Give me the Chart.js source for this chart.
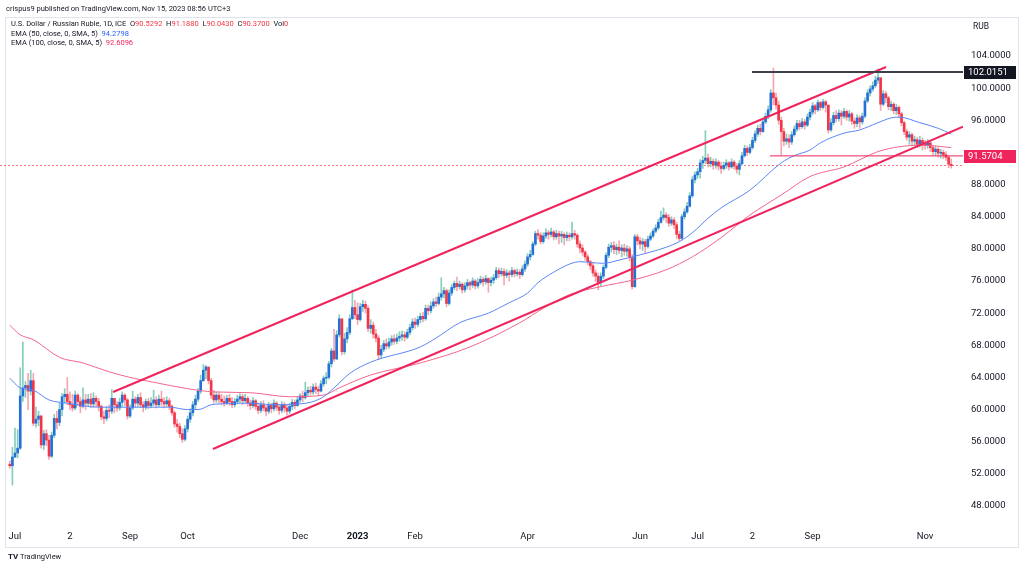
<!DOCTYPE html>
<html lang="en">
<head>
<meta charset="UTF-8">
<title>U.S. Dollar / Russian Ruble, 1D</title>
<script src="https://cdn.jsdelivr.net/npm/chart.js"></script>
<style>
  body { margin: 0; background: #fff; font-family: Roboto, "Liberation Sans", sans-serif; color: #131722; }
  #wrap { position: relative; width: 1024px; height: 568px; overflow: hidden; }
  #pane { position: absolute; left: 5px; top: 17px; width: 1012px; height: 529px; border: 1px solid #e0e3eb; }
  canvas { position: absolute; left: 0; top: 0; }
  .t { position: absolute; white-space: nowrap; font-size: 7.5px; line-height: 10px; }
  .red { color: #f23645; }
  .blue { color: #2962ff; }
  .pink { color: #f0245c; }
</style>
</head>
<body>
<div id="wrap">
  <div id="pane"></div>
  <canvas id="chart" width="1024" height="568"></canvas>
  <div class="t" style="left:6px;top:4px;">crispus9 published on TradingView.com, Nov 15, 2023 08:56 UTC+3</div>
  <div class="t" style="left:11px;top:19px;">U.S. Dollar / Russian Ruble, 1D, ICE&nbsp; O<span class="red">90.5292</span>&nbsp; H<span class="red">91.1880</span>&nbsp; L<span class="red">90.0430</span>&nbsp; C<span class="red">90.3700</span>&nbsp; Vol<span class="red">0</span></div>
  <div class="t" style="left:11px;top:29px;">EMA (50, close, 0, SMA, 5)&nbsp; <span class="blue">94.2798</span></div>
  <div class="t" style="left:11px;top:38px;">EMA (100, close, 0, SMA, 5)&nbsp; <span class="pink">92.6096</span></div>
  <div class="t" style="left:973px;top:21px;font-size:8.5px;">RUB</div>
  <div class="t" style="left:8px;top:552px;"><b style="font-size:8px;">TV</b> TradingView</div>
</div>
<script>
// daily candles, index 0 = 29 Jun 2022 ... 360 = 15 Nov 2023 (weekdays)
// open of each candle = previous close; first open given
const firstOpen = 53.2;
const closes = [
  53.0, 54.1, 54.6, 55.2, 61.7, 62.7, 63.0, 62.3, 63.6, 58.3,
  58.8, 59.2, 55.6, 57.0, 56.2, 54.2, 56.8, 58.9, 58.4, 60.0,
  61.6, 61.9, 61.0, 60.6, 60.2, 61.8, 61.0, 60.4, 61.2, 60.8,
  61.3, 60.7, 61.4, 61.0, 60.4, 59.1, 58.9, 59.9, 59.8, 61.4,
  60.6, 60.2, 60.9, 61.8, 61.2, 59.2, 60.2, 61.3, 60.8, 61.5,
  60.6, 60.3, 61.0, 60.5, 60.8, 61.2, 60.6, 61.3, 61.0, 60.7,
  61.1, 60.4, 59.6, 58.2, 57.9, 57.0, 56.3, 57.6, 58.8, 59.6,
  60.6, 61.3, 62.3, 63.6, 64.9, 65.3, 63.6, 61.8, 61.2, 61.8,
  61.3, 61.0, 60.8, 61.4, 61.0, 60.6, 61.0, 61.3, 61.6, 61.1,
  61.4, 60.8, 60.5, 61.1, 60.4, 59.9, 60.6, 60.2, 59.8, 60.5,
  60.1, 60.8, 60.3, 59.9, 60.6, 60.2, 59.8, 60.4, 60.9, 60.5,
  61.2, 61.7, 61.5, 62.1, 62.4, 62.2, 62.8, 62.5, 62.3, 63.2,
  63.9, 64.0, 65.7, 67.3, 66.3, 69.3, 71.3, 67.2, 68.8, 69.6,
  71.3, 72.7, 71.8, 71.2, 72.8, 73.1, 72.6, 70.1, 70.5, 69.4,
  68.9, 66.8, 67.5, 68.2, 67.9, 68.4, 68.8, 68.5, 68.9, 69.1,
  69.3, 69.0, 69.6, 70.2, 70.9, 70.6, 71.2, 71.6, 71.3, 72.6,
  72.3, 72.9, 73.4, 73.2, 74.0, 74.4, 74.8, 73.2, 74.5, 75.2,
  75.7, 75.3, 75.6, 74.9, 75.4, 75.8, 75.5, 76.0, 75.4, 75.8,
  76.2, 75.9, 76.3, 75.8, 76.1, 76.4, 77.3, 76.9, 77.2, 76.7,
  77.0, 76.8, 77.3, 76.9, 77.1, 76.8, 77.5, 78.1, 79.0, 79.3,
  80.6, 81.9, 81.7, 80.9, 81.6, 82.0, 81.8, 82.1, 81.5, 81.9,
  81.6, 81.8, 81.4, 81.7, 81.5, 81.9, 81.7, 80.6, 80.1, 79.6,
  79.0, 78.4, 77.9, 77.0, 76.6, 75.8, 76.6, 77.7, 79.2, 80.2,
  80.4, 79.9, 80.2, 79.8, 80.1, 79.7, 80.0, 78.9, 75.3, 81.5,
  81.0, 80.6, 80.9, 80.3, 81.2, 81.6, 82.2, 82.6, 83.3, 83.9,
  84.2, 83.9, 83.2, 83.6, 83.0, 81.8, 81.3, 84.0, 84.6, 85.3,
  86.6, 88.6, 89.2, 89.6, 90.7, 91.0, 91.3, 90.6, 90.9, 90.4,
  90.8, 90.3, 90.0, 90.4, 90.7, 90.2, 90.8, 90.3, 89.9, 90.6,
  91.6, 92.5, 92.0, 92.6, 93.5, 94.3, 95.0, 94.6, 95.8, 96.5,
  97.3, 99.4, 98.8, 97.9, 96.0, 94.6, 93.4, 93.7, 93.3, 94.2,
  94.9, 95.6, 95.2, 95.8, 95.4, 96.4, 97.0, 97.8, 97.3, 98.2,
  97.6, 98.3, 97.9, 94.8, 95.7, 96.6, 96.2, 96.9, 96.5, 97.1,
  96.4, 96.8, 95.9, 95.6, 96.3, 95.8, 96.5, 98.4, 99.4, 99.9,
  100.3, 101.0, 101.3, 98.0, 99.3, 98.8, 97.7, 98.0, 97.2, 97.6,
  96.8, 95.7, 94.6, 93.9, 94.2, 93.4, 93.6, 93.0, 93.5, 93.1,
  92.9, 93.2, 92.6, 92.1, 92.4, 91.9, 92.0, 91.7, 91.4, 90.53, 90.37
];
const highs = [
  53.6, 55.3, 57.7, 57.5, 65.2, 68.4, 63.5, 64.5, 64.9, 64.5,
  60.3, 59.8, 59.3, 57.4, 57.5, 56.8, 57.2, 59.4, 59.8, 60.8,
  62.0, 62.6, 64.0, 62.2, 61.9, 62.3, 62.0, 61.5, 62.7, 61.9,
  61.9, 62.0, 62.1, 61.7, 61.4, 60.6, 59.8, 60.4, 60.6, 62.5,
  61.2, 61.0, 61.4, 62.2, 62.0, 61.4, 60.6, 62.3, 61.6, 61.9,
  62.1, 61.0, 61.3, 61.4, 61.5, 62.4, 61.6, 61.8, 62.3, 61.5,
  61.6, 61.4, 60.6, 59.8, 58.8, 58.3, 57.6, 58.0, 59.2, 60.1,
  61.0, 61.8, 62.6, 64.3, 65.6, 65.5, 65.0, 63.9, 62.4, 62.2,
  62.1, 61.9, 61.7, 61.8, 61.9, 61.5, 61.4, 61.8, 62.0, 61.9,
  61.9, 61.6, 61.2, 61.5, 61.3, 60.8, 61.0, 61.1, 60.5, 60.9,
  60.8, 61.2, 61.0, 60.6, 61.0, 60.9, 60.6, 60.8, 61.3, 61.2,
  61.6, 62.0, 62.3, 63.4, 62.8, 62.9, 63.2, 63.3, 62.9, 63.6,
  64.2, 64.6, 66.0, 67.6, 70.0, 69.8, 71.8, 71.0, 69.5, 70.2,
  71.8, 74.9, 73.6, 73.3, 73.2, 73.6, 73.5, 72.9, 71.2, 70.9,
  70.0, 69.2, 68.0, 68.6, 68.8, 68.9, 69.2, 69.3, 69.4, 69.7,
  69.8, 69.7, 70.0, 70.6, 71.3, 71.4, 71.6, 72.0, 72.1, 73.0,
  73.0, 73.4, 73.8, 74.0, 74.5, 76.4, 75.2, 75.0, 74.9, 75.6,
  76.0, 76.5, 76.0, 75.8, 75.8, 76.2, 76.0, 76.4, 76.2, 76.3,
  76.6, 76.5, 76.7, 76.4, 76.5, 76.8, 77.7, 77.6, 77.6, 77.5,
  77.4, 77.3, 77.7, 77.5, 77.5, 77.4, 77.9, 78.5, 79.4, 79.8,
  80.9, 82.2, 82.4, 82.0, 82.0, 82.5, 82.3, 82.6, 82.3, 82.3,
  82.2, 82.2, 82.0, 82.1, 82.0, 83.3, 82.3, 81.9, 81.0, 80.5,
  79.8, 79.3, 78.6, 78.2, 77.4, 77.0, 77.0, 78.0, 79.5, 80.6,
  80.8, 80.9, 80.6, 81.0, 80.5, 80.6, 80.4, 80.3, 79.3, 81.8,
  81.8, 81.4, 81.3, 81.2, 81.6, 82.0, 82.5, 83.0, 83.7, 84.7,
  85.1, 84.5, 84.3, 84.0, 83.9, 83.3, 82.2, 84.3, 85.0, 85.8,
  87.0, 89.0, 89.6, 90.0, 91.1, 91.5, 94.7, 91.8, 91.4, 91.2,
  91.2, 91.0, 90.8, 90.8, 91.1, 90.9, 91.2, 91.0, 90.6, 91.0,
  92.0, 92.9, 92.8, 93.0, 93.9, 94.7, 95.4, 95.5, 96.2, 96.9,
  97.8, 99.8, 102.5, 99.4, 98.4, 96.4, 95.0, 94.3, 94.2, 94.6,
  95.3, 96.0, 96.0, 96.2, 96.1, 96.8, 97.4, 98.2, 98.0, 98.5,
  98.4, 98.6, 98.5, 97.8, 96.2, 97.0, 97.2, 97.3, 97.2, 97.5,
  97.3, 97.2, 97.0, 96.3, 96.7, 96.6, 96.9, 98.8, 99.8, 100.3,
  100.8, 101.5, 102.4, 101.2, 99.7, 99.6, 99.0, 98.4, 98.2, 98.0,
  97.8, 97.0, 95.9, 94.9, 94.6, 94.4, 94.0, 93.9, 94.0, 93.8,
  93.5, 93.6, 93.4, 92.9, 92.8, 92.6, 92.4, 92.3, 92.1, 91.6, 91.19
];
const lows = [
  52.7, 50.6, 54.0, 54.0, 55.0, 61.0, 61.5, 60.0, 61.8, 58.0,
  57.8, 58.0, 55.2, 55.0, 55.5, 53.8, 54.0, 56.5, 57.6, 58.0,
  59.2, 60.8, 60.6, 60.0, 59.8, 60.0, 60.5, 59.6, 60.2, 60.0,
  60.5, 60.2, 60.3, 60.4, 59.8, 58.7, 58.2, 58.6, 59.0, 59.5,
  59.6, 59.8, 59.9, 60.4, 60.5, 58.8, 59.0, 60.0, 60.3, 60.4,
  60.3, 59.7, 60.0, 60.1, 60.2, 60.5, 60.2, 60.4, 60.5, 60.2,
  60.4, 60.0, 59.3, 57.8, 57.2, 56.5, 55.9, 56.1, 57.2, 58.4,
  59.2, 60.1, 61.0, 62.0, 63.5, 63.8, 63.2, 61.4, 60.8, 60.9,
  60.8, 60.6, 60.4, 60.6, 60.5, 60.2, 60.3, 60.7, 60.9, 60.6,
  60.9, 60.4, 60.0, 60.2, 60.0, 59.5, 59.6, 59.8, 59.2, 59.5,
  59.6, 59.8, 59.9, 59.4, 59.6, 59.7, 59.3, 59.5, 60.0, 60.1,
  60.4, 60.9, 61.0, 61.3, 61.7, 61.8, 61.9, 62.0, 61.8, 62.2,
  62.9, 63.2, 63.8, 65.3, 66.0, 66.2, 69.0, 66.8, 66.9, 68.3,
  69.3, 71.2, 71.3, 70.6, 71.0, 72.2, 72.0, 69.7, 69.5, 68.9,
  68.4, 66.2, 66.4, 67.2, 67.5, 67.6, 68.0, 68.1, 68.2, 68.5,
  68.6, 68.5, 68.8, 69.3, 69.9, 70.1, 70.3, 70.8, 70.9, 71.1,
  71.8, 72.0, 72.6, 72.8, 73.0, 73.6, 73.9, 72.8, 73.0, 74.2,
  74.9, 74.8, 75.0, 74.5, 74.6, 75.0, 74.9, 75.2, 75.0, 75.1,
  75.6, 75.4, 75.6, 74.6, 75.4, 75.7, 76.2, 76.4, 76.6, 75.5,
  76.4, 76.0, 76.5, 76.5, 76.6, 76.3, 76.6, 77.2, 77.8, 78.6,
  79.2, 80.4, 81.2, 80.6, 80.7, 81.3, 81.2, 81.5, 81.1, 81.2,
  80.6, 80.8, 80.5, 81.0, 81.0, 81.2, 81.2, 80.2, 79.5, 79.2,
  78.6, 78.0, 77.4, 76.6, 75.9, 74.9, 75.4, 76.3, 77.5, 78.9,
  79.6, 79.4, 79.3, 79.4, 79.0, 79.2, 79.1, 78.5, 75.0, 75.2,
  80.5, 80.0, 79.8, 79.5, 80.1, 81.0, 81.4, 82.0, 82.4, 83.2,
  83.6, 83.3, 82.8, 82.9, 82.5, 81.3, 81.0, 81.1, 83.7, 84.4,
  85.2, 86.4, 88.2, 88.8, 88.8, 90.0, 90.6, 90.2, 90.2, 89.9,
  90.0, 89.8, 89.4, 89.8, 90.0, 89.8, 90.0, 89.9, 89.4, 89.2,
  90.4, 91.4, 91.6, 91.8, 92.4, 93.2, 94.0, 94.2, 94.5, 95.6,
  96.2, 97.0, 97.9, 97.4, 95.5, 91.7, 92.8, 93.0, 92.6, 93.0,
  94.0, 94.6, 94.8, 95.0, 94.9, 95.2, 96.0, 96.7, 96.8, 97.1,
  97.2, 97.4, 97.0, 94.4, 94.6, 95.4, 95.8, 95.9, 95.4, 96.2,
  96.0, 95.9, 95.5, 95.0, 95.2, 95.0, 95.5, 96.3, 98.2, 99.0,
  99.6, 100.1, 100.6, 97.2, 97.8, 98.2, 97.3, 97.2, 96.8, 96.7,
  96.3, 95.3, 94.2, 93.5, 93.0, 92.8, 92.9, 92.6, 92.7, 92.3,
  92.4, 92.5, 92.1, 91.7, 91.6, 91.4, 91.3, 91.2, 91.0, 90.1, 90.04
];

// EMA lines at sample candles
const ema50Idx = [0, 4, 9, 15, 22, 34, 46, 61, 68, 72, 77, 80, 92, 101, 111, 119, 124, 130, 138, 157, 163, 172, 183, 191, 198, 202, 208, 214, 218, 227, 233, 238, 251, 256, 261, 267, 272, 283, 295, 300, 306, 310, 319, 325, 332, 337, 340, 348, 355, 360];
const ema50 = [63.9, 62.7, 62.4, 61.2, 60.8, 60.3, 60.3, 60.3, 60.0, 60.0, 60.6, 60.7, 60.8, 60.6, 60.7, 61.4, 62.7, 64.5, 65.9, 67.8, 68.9, 70.8, 72.0, 73.3, 74.5, 75.8, 77.1, 78.1, 78.4, 78.2, 78.6, 79.0, 80.2, 80.9, 82.0, 83.8, 85.1, 87.3, 90.7, 91.6, 92.3, 93.2, 94.4, 94.8, 95.7, 96.3, 96.4, 95.7, 95.0, 94.3];
const ema100Idx = [0, 4, 9, 19, 28, 38, 46, 55, 68, 78, 92, 107, 120, 126, 138, 157, 176, 195, 204, 214, 226, 238, 251, 261, 272, 283, 295, 306, 319, 332, 340, 349, 360];
const ema100 = [70.5, 69.3, 68.7, 66.5, 65.8, 64.7, 64.0, 63.4, 62.6, 62.2, 62.1, 61.6, 61.8, 62.7, 64.3, 65.8, 67.8, 70.8, 72.6, 74.3, 75.3, 76.1, 77.4, 79.0, 81.4, 84.2, 86.7, 89.0, 90.2, 92.1, 92.7, 92.9, 92.6];

// drawn channel (two trend lines) and horizontal levels
const upperLine = [[39.5, 62.19], [335.1, 102.63]];
const lowerLine = [[77.7, 55.09], [364.5, 95.2]];
const levels = [102.0151, 91.5704];
const levelFrom = [283.8, 290.7];
const lastClose = 90.37;

const tickIdx = [2, 23, 46, 68, 111, 133, 155, 198, 241, 263, 284, 307, 350];
const tickLabels = ['Jul', '2', 'Sep', 'Oct', 'Dec', '2023', 'Feb', 'Apr', 'Jun', 'Jul', '2', 'Sep', 'Nov'];

const X_MIN = -3.74, X_MAX = 364.5;
const upBody = '#2371d8', upWick = '#86cdbf', dnBody = '#f23645', dnWick = '#f6a6b2';

const wicks = [], bodies = [], wickCol = [], bodyCol = [];
closes.forEach((c, i) => {
  const o = i === 0 ? firstOpen : closes[i - 1];
  const up = c >= o;
  wicks.push({ x: i, y: [lows[i], highs[i]] });
  bodies.push({ x: i, y: [o, c] });
  wickCol.push(up ? upWick : dnWick);
  bodyCol.push(up ? upBody : dnBody);
});

const pts = (idx, vals) => idx.map((v, k) => ({ x: v, y: vals[k] }));
const seg = (a) => a.map(p => ({ x: p[0], y: p[1] }));
const lineDs = (data, color, width, order, extra) => Object.assign({
  type: 'line', data, borderColor: color, borderWidth: width, pointRadius: 0, fill: false, order
}, extra || {});

const priceBoxes = {
  id: 'priceBoxes',
  afterDraw(chart) {
    const { ctx, scales: { y } } = chart;
    const boxes = [{ v: levels[0], bg: '#131722' }, { v: levels[1], bg: '#f0245c' }];
    ctx.save();
    boxes.forEach(b => {
      const py = Math.round(y.getPixelForValue(b.v));
      ctx.fillStyle = b.bg;
      ctx.fillRect(964, py - 6, 52, 13);
      ctx.fillStyle = '#fff';
      ctx.font = '9.5px Roboto';
      ctx.textBaseline = 'middle';
      ctx.fillText(b.v.toFixed(4), 968, py + 1);
    });
    ctx.restore();
  }
};

new Chart(document.getElementById('chart'), {
  type: 'bar',
  data: {
    datasets: [
      lineDs(pts([X_MIN, X_MAX], [lastClose, lastClose]), 'rgba(242,54,69,0.7)', 1, 7, { borderDash: [2, 2] }),
      { data: wicks, backgroundColor: wickCol, barThickness: 1, grouped: false, order: 6 },
      { data: bodies, backgroundColor: bodyCol, barThickness: 2, minBarLength: 1, grouped: false, order: 5 },
      lineDs(pts(ema100Idx, ema100), '#f2668c', 1, 4, { cubicInterpolationMode: 'monotone' }),
      lineDs(pts(ema50Idx, ema50), '#5a86f7', 1, 3, { cubicInterpolationMode: 'monotone' }),
      lineDs(seg(upperLine), '#f0245c', 2, 2),
      lineDs(seg(lowerLine), '#f0245c', 2, 2),
      lineDs(pts([levelFrom[0], X_MAX], [levels[0], levels[0]]), '#3d4049', 2, 1),
      lineDs(pts([levelFrom[1], X_MAX], [levels[1], levels[1]]), '#f0245c', 1, 1)
    ]
  },
  options: {
    responsive: false,
    animation: false,
    layout: { padding: { top: 17, left: 0, right: 0, bottom: 21 } },
    plugins: { legend: { display: false }, tooltip: { enabled: false } },
    scales: {
      x: {
        type: 'linear', min: X_MIN, max: X_MAX, offset: false,
        grid: { display: false, drawTicks: false }, border: { display: false },
        afterBuildTicks: s => { s.ticks = tickIdx.map(v => ({ value: v })); },
        afterFit: s => { s.height = 22; },
        ticks: {
          autoSkip: false, maxRotation: 0, padding: 6, color: '#131722',
          font: c => ({ size: 9.5, family: 'Roboto', weight: (c.tick && c.tick.value === 133) ? 'bold' : 'normal' }),
          callback: v => tickLabels[tickIdx.indexOf(v)]
        }
      },
      y: {
        position: 'right', min: 45.636, max: 108.853,
        grid: { display: false, drawTicks: false }, border: { display: false },
        afterFit: s => { s.width = 61; },
        ticks: {
          stepSize: 4, includeBounds: false, padding: 8, color: '#131722',
          font: { size: 9.5, family: 'Roboto' },
          // labels hidden above the scale top and where a price box covers them
          callback: v => (v > 105 || levels.some(l => Math.abs(l - v) < 1.5)) ? '' : v.toFixed(4)
        }
      }
    }
  },
  plugins: [priceBoxes]
});
</script>
</body>
</html>
